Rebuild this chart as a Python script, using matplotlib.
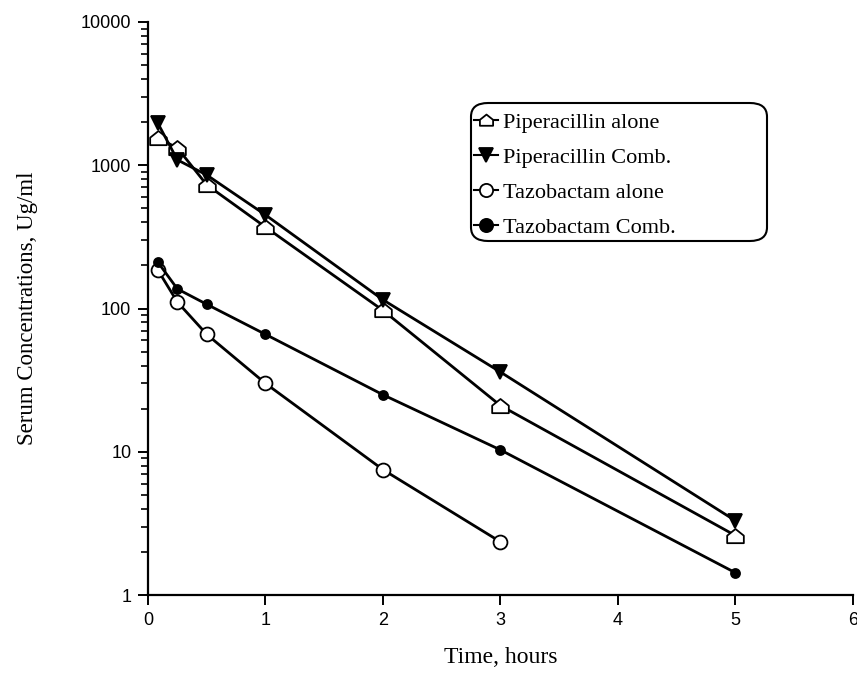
import matplotlib
matplotlib.use("Agg")
import matplotlib.pyplot as plt
from matplotlib.path import Path
from matplotlib.patches import FancyBboxPatch

# tempo (horas) e concentracoes
tempo_pip = [0.083, 0.25, 0.5, 1, 2, 3, 5]
pip_alone = [1550, 1320, 730, 370, 97, 21, 2.6]
pip_comb = [1970, 1090, 855, 450, 115, 36, 3.3]

tempo_taz = [0.083, 0.25, 0.5, 1, 2, 3]
taz_alone = [186, 111, 66, 30, 7.5, 2.35]

tempo_taz_comb = [0.083, 0.25, 0.5, 1, 2, 3, 5]
taz_comb = [211, 137, 107, 66, 25, 10.3, 1.43]

rotulos = ["Piperacillin alone", "Piperacillin Comb.", "Tazobactam alone", "Tazobactam Comb."]

#marcador em forma de "casinha"
casa = Path([(-1, -0.8), (1, -0.8), (1, 0.1), (0, 0.9), (-1, 0.1), (-1, -0.8)],
            [Path.MOVETO, Path.LINETO, Path.LINETO, Path.LINETO, Path.LINETO, Path.CLOSEPOLY])

fig = plt.figure(figsize=(8.57, 6.83), dpi=100)
ax = fig.add_axes([0.1727, 0.1288, 0.8226, 0.839])

kw = dict(color="black", lw=2, markeredgewidth=1.3)
ax.plot(tempo_pip, pip_alone, marker=casa, ms=12, mfc="white", label=rotulos[0], **kw)
ax.plot(tempo_pip, pip_comb, marker="v", ms=10, mfc="black", label=rotulos[1], **kw)
ax.plot(tempo_taz, taz_alone, marker="o", ms=10, mfc="white", label=rotulos[2], **kw)
ax.plot(tempo_taz_comb, taz_comb, marker="o", ms=6.5, mfc="black", label=rotulos[3], **kw)

ax.set_yscale("log")
ax.set_ylim(1, 10000)
ax.set_xlim(0, 6)
ax.set_xticks(range(7))
ax.set_yticks([1, 10, 100, 1000, 10000])
ax.set_yticklabels(["1", "10", "100", "1000", "10000"])

for lado in ["top", "right"]:
    ax.spines[lado].set_visible(False)
for lado in ["left", "bottom"]:
    ax.spines[lado].set_linewidth(1.6)

ax.tick_params(axis="both", which="major", direction="out", length=7, width=1.4,
               labelsize=13, pad=5)
ax.tick_params(axis="y", which="minor", direction="out", length=5, width=1.2)
for t in ax.get_xticklabels() + ax.get_yticklabels():
    t.set_fontfamily("Liberation Sans")

ax.set_xlabel("Time, hours", fontfamily="Liberation Serif", fontsize=17, labelpad=13)
ax.set_ylabel("Serum Concentrations, Ug/ml", fontfamily="Liberation Serif", fontsize=16.5, labelpad=31)

#legenda sem moldura + caixa arredondada desenhada a parte (a caixa original e bem mais larga que o texto)
leg = fig.legend(loc="upper left", bbox_to_anchor=(474 / 857, 1 - 112 / 683), frameon=False,
                 handlelength=1.1, handletextpad=0.2, borderpad=0, labelspacing=0.66,
                 borderaxespad=0, prop={"family": "Liberation Serif", "size": 16})
for h in leg.legend_handles:
    h.set_markersize(9.5)
    h.set_linewidth(1.5)

caixa = FancyBboxPatch((471 / 857, 1 - 241 / 683), 296 / 857, 138 / 683,
                       boxstyle="round,pad=0,rounding_size=0.02", transform=fig.transFigure,
                       facecolor="none", edgecolor="black", linewidth=1.5)
fig.patches.append(caixa)

fig.savefig("out.png", dpi=100)
